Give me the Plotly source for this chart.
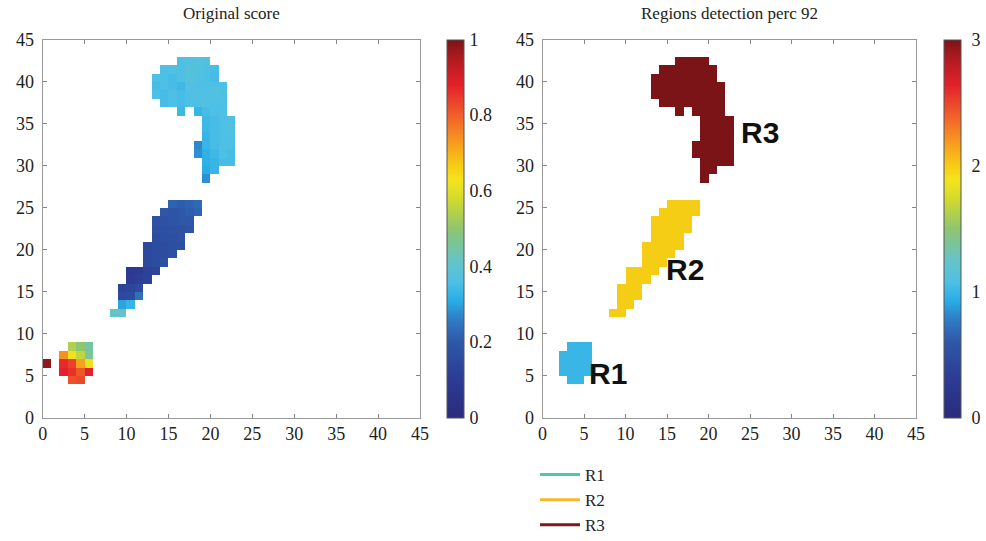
import plotly.graph_objects as go

GRID = 45

# Score cells per region: (row, first column, scores along the row)
r1_rows = [
    (8, 3, [0.54, 0.50, 0.45]),
    (7, 2, [0.74, 0.62, 0.56, 0.46]),
    (6, 2, [0.87, 0.84, 0.72, 0.62]),
    (5, 2, [0.88, 0.86, 0.81, 0.88]),
    (4, 3, [0.82, 0.83]),
]
r2_rows = [
    (25, 15, [0.22, 0.21, 0.22, 0.23]),
    (24, 14, [0.20, 0.19, 0.20, 0.21, 0.22]),
    (23, 13, [0.18, 0.18, 0.19, 0.20, 0.20]),
    (22, 13, [0.17, 0.17, 0.18, 0.18, 0.19]),
    (21, 13, [0.16, 0.17, 0.17, 0.18]),
    (20, 12, [0.15, 0.16, 0.16, 0.17, 0.17]),
    (19, 12, [0.15, 0.16, 0.16, 0.17]),
    (18, 12, [0.15, 0.16, 0.17]),
    (17, 10, [0.09, 0.10, 0.12, 0.14]),
    (16, 10, [0.10, 0.11, 0.13]),
    (15, 9, [0.13, 0.14, 0.16]),
    (14, 9, [0.15, 0.16, 0.24]),
    (13, 9, [0.30, 0.33]),
    (12, 8, [0.42, 0.41]),
]
r3_rows = [
    (42, 16, [0.36, 0.37, 0.38, 0.37]),
    (41, 14, [0.36, 0.37, 0.36, 0.38, 0.37, 0.36, 0.35]),
    (40, 13, [0.36, 0.36, 0.35, 0.36, 0.38, 0.37, 0.36, 0.35]),
    (39, 13, [0.35, 0.36, 0.35, 0.34, 0.37, 0.36, 0.36, 0.36, 0.36]),
    (38, 13, [0.36, 0.35, 0.36, 0.35, 0.36, 0.37, 0.36, 0.37, 0.36]),
    (37, 14, [0.35, 0.36, 0.35, 0.36, 0.36, 0.37, 0.36, 0.36]),
    (36, 16, [0.34]),
    (36, 18, [0.33, 0.35, 0.36, 0.36]),
    (35, 19, [0.34, 0.35, 0.36, 0.36]),
    (34, 19, [0.34, 0.35, 0.36, 0.37]),
    (33, 19, [0.33, 0.35, 0.36, 0.36]),
    (32, 18, [0.27, 0.33, 0.35, 0.36, 0.36]),
    (31, 18, [0.28, 0.32, 0.34, 0.36, 0.35]),
    (30, 19, [0.32, 0.33, 0.35, 0.35]),
    (29, 19, [0.31, 0.33]),
    (28, 19, [0.28]),
]
# isolated high-score cell that is not part of any region
outlier_rows = [(6, 0, [0.98])]

region_names = ["R1", "R2", "R3"]
region_ids = [1, 2, 3]
legend_colors = ["#4fc9a8", "#f8b82e", "#7b1a1c"]
label_pos = [(7.95, 5.3), (17.2, 17.6), (26.2, 34.0)]

score_ticks = [0, 0.2, 0.4, 0.6, 0.8, 1]
region_ticks = [0, 1, 2, 3]
axis_ticks = list(range(0, 46, 5))

colorscale = [
    [0.00, "#2a2b7b"], [0.10, "#2c3b94"], [0.20, "#2e57a8"], [0.26, "#2f7cc4"],
    [0.31, "#29ade6"], [0.36, "#4ec0e6"], [0.42, "#67c4c4"], [0.50, "#8ec56f"],
    [0.58, "#d3da2e"], [0.63, "#f4e41c"], [0.67, "#f6cb14"], [0.73, "#f7991f"],
    [0.80, "#f1602a"], [0.88, "#e4212a"], [0.95, "#b01b20"], [1.00, "#7b1416"],
]

score = [[None] * GRID for _ in range(GRID)]
regions = [[None] * GRID for _ in range(GRID)]
for rid, rows in zip(region_ids, [r1_rows, r2_rows, r3_rows]):
    for r, c0, vals in rows:
        for k, v in enumerate(vals):
            score[r][c0 + k] = v
            regions[r][c0 + k] = rid
for r, c0, vals in outlier_rows:
    for k, v in enumerate(vals):
        score[r][c0 + k] = v

W, H = 986, 541
SERIF = "Liberation Serif"
TOP, BOTTOM = 40, 417.5


def px_x(p):
    return p / W


def px_y(p):
    return 1 - p / H


fig = go.Figure()

cb_common = dict(
    thickness=17, thicknessmode="pixels", len=(BOTTOM - TOP) / H, lenmode="fraction",
    y=px_y(BOTTOM), yanchor="bottom", xanchor="left", xpad=0, ypad=0,
    outlinecolor="#555", outlinewidth=1, ticks="outside",
    tickcolor="rgba(0,0,0,0)", tickfont=dict(family=SERIF, size=18, color="#222"),
)

# each cell spans [c, c+1] x [r, r+1]
fig.add_trace(go.Heatmap(
    z=score, x0=0.5, dx=1, y0=0.5, dy=1, zmin=0, zmax=1,
    colorscale=colorscale, xaxis="x", yaxis="y", hoverongaps=False,
    colorbar=dict(x=px_x(446.7), tickvals=score_ticks, ticklen=2,
                  ticktext=[f"{t:g}" for t in score_ticks], **cb_common),
    showlegend=False,
))
fig.add_trace(go.Heatmap(
    z=regions, x0=0.5, dx=1, y0=0.5, dy=1, zmin=0, zmax=3,
    colorscale=colorscale, xaxis="x2", yaxis="y2", hoverongaps=False,
    colorbar=dict(x=px_x(944), tickvals=region_ticks, ticklen=7,
                  ticktext=[str(t) for t in region_ticks], **cb_common),
    showlegend=False,
))

for name, col in zip(region_names, legend_colors):
    fig.add_trace(go.Scatter(
        x=[None], y=[None], mode="lines", name=name, legendgroup=name,
        line=dict(color=col, width=3), xaxis="x2", yaxis="y2",
    ))

axis_common = dict(
    range=[0, 45], tickvals=axis_ticks, ticks="inside", ticklen=4,
    tickcolor="#888", showline=True, linecolor="#999", linewidth=1,
    mirror="ticks", showgrid=False, zeroline=False, automargin=False,
    tickfont=dict(family=SERIF, size=18, color="#222"),
)
y_extra = dict(ticklabelstandoff=4)
fig.update_layout(
    width=W, height=H, margin=dict(l=0, r=0, t=0, b=0, autoexpand=False),
    paper_bgcolor="white", plot_bgcolor="white",
    xaxis=dict(domain=[px_x(42.7), px_x(420)], anchor="y", **axis_common),
    yaxis=dict(domain=[px_y(BOTTOM), px_y(TOP)], anchor="x", **axis_common, **y_extra),
    xaxis2=dict(domain=[px_x(542.5), px_x(916)], anchor="y2", **axis_common),
    yaxis2=dict(domain=[px_y(BOTTOM), px_y(TOP)], anchor="x2", **axis_common, **y_extra),
    legend=dict(x=px_x(535), y=px_y(457), xanchor="left", yanchor="top",
                font=dict(family=SERIF, size=17, color="#222"), itemwidth=40,
                tracegroupgap=0, bgcolor="rgba(0,0,0,0)"),
    showlegend=True,
)

titles = [("Original score", (42.7 + 420) / 2), ("Regions detection perc 92", (542.5 + 916) / 2)]
for text, cx in titles:
    fig.add_annotation(text=text, x=px_x(cx), y=px_y(14), xref="paper", yref="paper",
                       showarrow=False, xanchor="center", yanchor="middle",
                       font=dict(family=SERIF, size=17, color="#222"))

for name, (lx, ly) in zip(region_names, label_pos):
    fig.add_annotation(text=f"<b>{name}</b>", x=lx, y=ly, xref="x2", yref="y2",
                       showarrow=False, xanchor="center", yanchor="middle",
                       font=dict(family="Liberation Sans", size=30, color="#111"))

fig.write_html("out.html")
